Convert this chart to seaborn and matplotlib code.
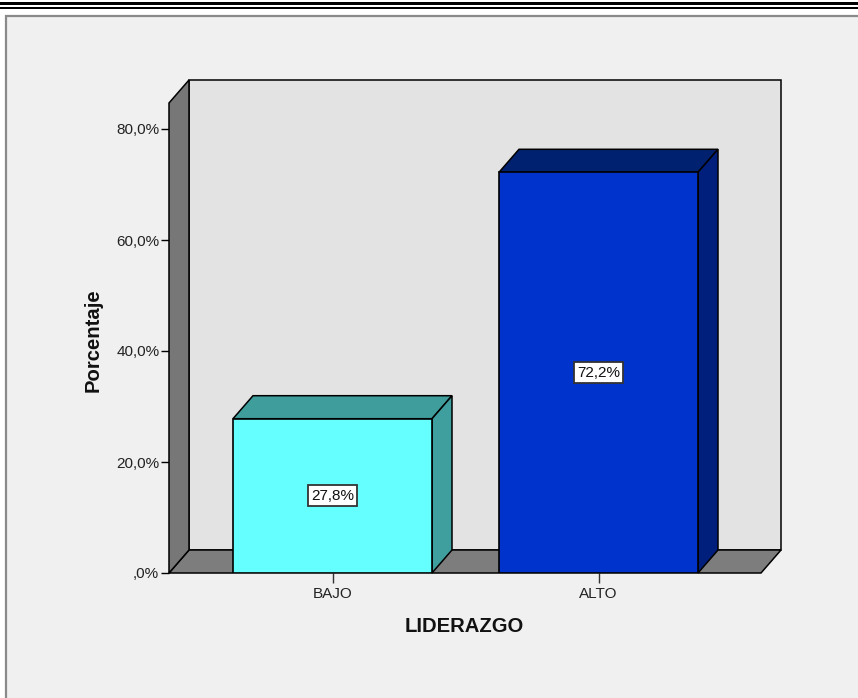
import matplotlib
matplotlib.use("Agg")
import matplotlib.pyplot as plt
from matplotlib.patches import Polygon, Rectangle
import seaborn as sns

# Data
categories = ["BAJO", "ALTO"]
percentages = [27.8, 72.2]
front_colors = ["#66FFFF", "#0033CC"]
top_colors = ["#3F9E9C", "#00216F"]
side_colors = ["#3F9E9E", "#001F7C"]
ytick_values = [0, 20, 40, 60, 80]
ytick_labels = [",0%", "20,0%", "40,0%", "60,0%", "80,0%"]

W, H = 858, 698
sns.set_theme(style="white")
plt.rcParams["font.family"] = ["Liberation Sans", "DejaVu Sans"]

fig = plt.figure(figsize=(W / 100, H / 100), dpi=100)
fig.patch.set_facecolor("white")

# Page decoration: double rule at top and a grey chart frame
bg = fig.add_axes([0, 0, 1, 1])
bg.set_xlim(0, W)
bg.set_ylim(H, 0)
bg.axis("off")
bg.add_patch(Rectangle((0, 1.5), W, 3.8, color="black", lw=0))
bg.add_patch(Rectangle((0, 6.7), W, 2.6, color="black", lw=0))
bg.add_patch(Rectangle((6, 16), W + 20, H + 20, fc="#F0F0F0", ec="#8A8A8A", lw=1.6))

# Plot area (front plane of the 3D box)
x0, x1, y0, y1 = 169, 761, 103, 573
ax = fig.add_axes([x0 / W, (H - y1) / H, (x1 - x0) / W, (y1 - y0) / H])
ax.set_facecolor("none")

px_per_cat = 266.0
px_per_pct = 555.0 / 100.0
xmin = -(332.5 - x0) / px_per_cat
xmax = 1 + (x1 - 598.5) / px_per_cat
ytop = (y1 - y0) / px_per_pct
bar_w = 199.0 / px_per_cat
dx = 20.0 / px_per_cat
dy = 23.0 / px_per_pct

# Back wall, floor and left wall
wall_kw = dict(ec="black", lw=1.1, clip_on=False, joinstyle="miter")
ax.add_patch(Polygon([(xmin + dx, dy), (xmax + dx, dy), (xmax + dx, ytop + dy),
                      (xmin + dx, ytop + dy)], fc="#E3E3E3", zorder=0, **wall_kw))
ax.add_patch(Polygon([(xmin, 0), (xmax, 0), (xmax + dx, dy), (xmin + dx, dy)],
                     fc="#7D7D7D", zorder=1, **wall_kw))
ax.add_patch(Polygon([(xmin, 0), (xmin, ytop), (xmin + dx, ytop + dy), (xmin + dx, dy)],
                     fc="#777777", zorder=1, **wall_kw))

# Front faces of the bars
sns.barplot(x=categories, y=percentages, hue=categories, palette=front_colors,
            saturation=1, width=bar_w, errorbar=None, legend=False, ax=ax,
            edgecolor="black", linewidth=1.2, zorder=3)

# Top and side faces of each bar
for i, v in enumerate(percentages):
    l, r = i - bar_w / 2, i + bar_w / 2
    ax.add_patch(Polygon([(l, v), (r, v), (r + dx, v + dy), (l + dx, v + dy)],
                         fc=top_colors[i], zorder=2, **wall_kw))
    ax.add_patch(Polygon([(r, 0), (r, v), (r + dx, v + dy), (r + dx, dy)],
                         fc=side_colors[i], zorder=2, **wall_kw))
    ax.text(i, v / 2, f"{v:.1f}%".replace(".", ","), ha="center", va="center",
            fontsize=11, color="#111111", zorder=5,
            bbox=dict(boxstyle="square,pad=0.22", fc="white", ec="#333333", lw=1.3))

ax.set_xlim(xmin, xmax)
ax.set_ylim(0, ytop)
for s in ax.spines.values():
    s.set_visible(False)

ax.set_yticks(ytick_values)
ax.set_yticklabels(ytick_labels)
ax.tick_params(axis="y", left=True, length=6, width=1, color="black",
               labelsize=11, labelcolor="#222222", pad=1)
ax.tick_params(axis="x", bottom=True, length=7, width=1, color="#333333",
               labelsize=11, labelcolor="#222222", pad=3)

ax.set_xlabel("LIDERAZGO", fontsize=14.6, fontweight="bold", color="#111111", va="center")
ax.xaxis.set_label_coords((464 - x0) / (x1 - x0), (y1 - 626) / (y1 - y0))
ax.set_ylabel("Porcentaje", fontsize=14.6, fontweight="bold", color="#111111", va="center")
ax.yaxis.set_label_coords((93 - x0) / (x1 - x0), (y1 - 340) / (y1 - y0))

fig.savefig("out.png", dpi=100, facecolor=fig.get_facecolor())
